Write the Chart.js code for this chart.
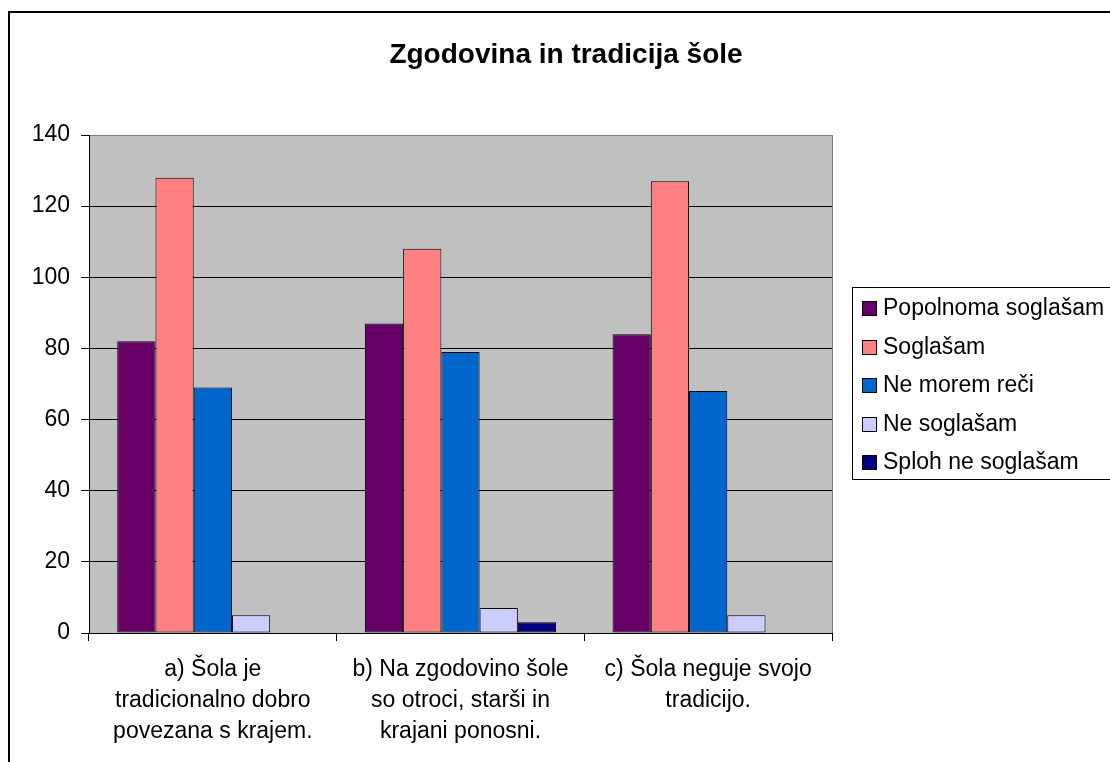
<!DOCTYPE html>
<html>
<head>
<meta charset="utf-8">
<script src="https://cdn.jsdelivr.net/npm/chart.js@4/dist/chart.umd.min.js"></script>
<style>
html,body{margin:0;padding:0;background:#fff;}
canvas{display:block;}
</style>
</head>
<body>
<canvas id="c" width="1110" height="762"></canvas>
<script>
const chartTitle = "Zgodovina in tradicija šole";
const categories = [
  ["a) Šola je", "tradicionalno dobro", "povezana s krajem."],
  ["b) Na zgodovino šole", "so otroci, starši in", "krajani ponosni."],
  ["c) Šola neguje svojo", "tradicijo."]
];
const seriesNames = ["Popolnoma soglašam", "Soglašam", "Ne morem reči", "Ne soglašam", "Sploh ne soglašam"];
const popolnomaSoglasam = [82, 87, 84];
const soglasam = [128, 108, 127];
const neMoremReci = [69, 79, 68];
const neSoglasam = [5, 7, 5];
const splohNeSoglasam = [0, 3, 0];
const yTicks = [0, 20, 40, 60, 80, 100, 120, 140];
const seriesColors = ["#660066", "#FF8080", "#0066CC", "#CCCCFF", "#000080"];

const FONT = '"Liberation Sans", Arial, sans-serif';
const seriesValues = [popolnomaSoglasam, soglasam, neMoremReci, neSoglasam, splohNeSoglasam];

const decor = {
  id: 'decor',
  beforeDraw(chart) {
    const {ctx, chartArea: a} = chart;
    ctx.save();
    ctx.fillStyle = '#C0C0C0';
    ctx.fillRect(a.left, a.top, a.right - a.left, a.bottom - a.top);
    ctx.restore();
  },
  afterDraw(chart) {
    const {ctx, chartArea: a} = chart;
    ctx.save();
    // plot right border (gray)
    ctx.strokeStyle = '#808080';
    ctx.lineWidth = 1;
    ctx.beginPath();
    ctx.moveTo(Math.round(a.right) + 0.5, a.top);
    ctx.lineTo(Math.round(a.right) + 0.5, a.bottom);
    ctx.stroke();
    // outer chart border
    ctx.strokeStyle = '#000';
    ctx.lineWidth = 2;
    ctx.beginPath();
    ctx.moveTo(9, 800);
    ctx.lineTo(9, 12);
    ctx.lineTo(1200, 12);
    ctx.stroke();
    // title
    ctx.fillStyle = '#000';
    ctx.font = 'bold 28px ' + FONT;
    ctx.textAlign = 'center';
    ctx.textBaseline = 'alphabetic';
    ctx.fillText(chartTitle, 566, 63);
    // legend
    const lx = 852, ly = 287, lh = 192, step = 38.5;
    ctx.lineWidth = 1;
    ctx.strokeRect(lx + 0.5, ly + 0.5, 400, lh);
    ctx.font = '23px ' + FONT;
    ctx.textAlign = 'left';
    ctx.textBaseline = 'middle';
    chart.data.datasets.forEach((ds, i) => {
      const cy = ly + 21 + i * step;
      ctx.fillStyle = ds.backgroundColor;
      ctx.fillRect(862, Math.round(cy - 7), 15, 15);
      ctx.strokeStyle = '#000';
      ctx.strokeRect(862.5, Math.round(cy - 7) + 0.5, 14, 14);
      ctx.fillStyle = '#000';
      ctx.fillText(ds.label, 883, cy + 1);
    });
    ctx.restore();
  }
};

new Chart(document.getElementById('c'), {
  type: 'bar',
  data: {
    labels: categories,
    datasets: seriesNames.map((name, i) => ({
      label: name,
      data: seriesValues[i],
      backgroundColor: seriesColors[i],
      borderColor: '#000',
      borderWidth: 1,
      borderSkipped: false,
      categoryPercentage: 0.772,
      barPercentage: 1.0
    }))
  },
  options: {
    responsive: false,
    animation: false,
    devicePixelRatio: 1,
    layout: { padding: { left: 0, top: 135, right: 278, bottom: 0 } },
    plugins: { legend: { display: false }, title: { display: false }, tooltip: { enabled: false } },
    scales: {
      x: {
        grid: { drawOnChartArea: false, drawTicks: true, tickLength: 8, color: '#000', offset: true },
        border: { color: '#000', width: 1 },
        ticks: { color: '#000', font: { family: FONT, size: 23, lineHeight: 1.35 }, padding: 13, maxRotation: 0, autoSkip: false },
        afterFit(s) { s.height = 129; }
      },
      y: {
        min: 0, max: 140,
        afterBuildTicks(s) { s.ticks = yTicks.map(v => ({ value: v })); },
        grid: {
          color: (c) => (c.tick && c.tick.value === 140) ? '#808080' : '#000',
          tickColor: '#000', tickLength: 8, lineWidth: 1
        },
        border: { color: '#000', width: 1 },
        ticks: { color: '#000', font: { family: FONT, size: 23 }, padding: 11 },
        afterFit(s) { s.width = 89; }
      }
    }
  },
  plugins: [decor]
});
</script>
</body>
</html>
